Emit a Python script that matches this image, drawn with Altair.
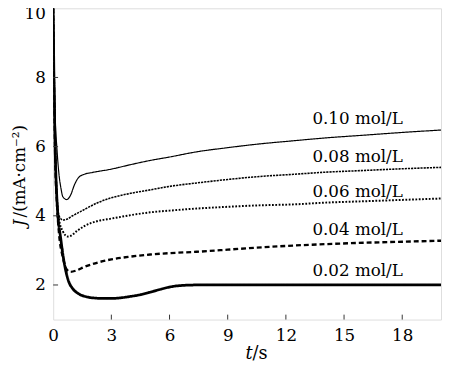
import altair as alt
import pandas as pd

series_names = ["0.10 mol/L", "0.08 mol/L", "0.06 mol/L", "0.04 mol/L", "0.02 mol/L"]

t_010 = [0, 0.05, 0.1, 0.2, 0.3, 0.4, 0.5, 0.7, 0.9, 1.1, 1.3, 1.6, 2, 3, 4, 5, 6, 7.4, 9, 10.5, 12.4, 14, 16, 18, 20]
j_010 = [10, 8.5, 7.0, 5.9, 5.2, 4.8, 4.55, 4.47, 4.6, 4.9, 5.1, 5.2, 5.25, 5.35, 5.48, 5.6, 5.7, 5.85, 5.97, 6.07, 6.17, 6.25, 6.33, 6.41, 6.48]

t_008 = [0, 0.05, 0.1, 0.15, 0.2, 0.3, 0.5, 0.7, 1, 1.5, 2.3, 3, 4, 5, 6, 7.4, 9, 10.5, 12.4, 14, 16, 18, 20]
j_008 = [10, 8, 6.5, 5.2, 4.5, 4.0, 3.88, 3.9, 4.0, 4.15, 4.38, 4.52, 4.65, 4.75, 4.85, 4.95, 5.05, 5.13, 5.2, 5.26, 5.31, 5.36, 5.4]

t_006 = [0, 0.05, 0.1, 0.2, 0.3, 0.5, 0.75, 0.9, 1.2, 1.6, 2.3, 3, 4, 5, 6, 7.4, 9, 10.5, 12.4, 14, 16, 18, 20]
j_006 = [10, 7.8, 6, 4.5, 3.9, 3.55, 3.4, 3.42, 3.55, 3.7, 3.85, 3.92, 4.02, 4.1, 4.15, 4.21, 4.26, 4.3, 4.33, 4.38, 4.42, 4.46, 4.5]

t_004 = [0, 0.05, 0.1, 0.2, 0.3, 0.5, 0.7, 0.9, 1.2, 1.6, 2.3, 3, 4, 5, 6, 7.4, 9, 10.5, 12.4, 14, 16, 18, 20]
j_004 = [10, 7.5, 5.8, 4.3, 3.5, 2.8, 2.45, 2.38, 2.42, 2.52, 2.65, 2.74, 2.82, 2.88, 2.92, 2.96, 3.02, 3.08, 3.14, 3.18, 3.22, 3.25, 3.28]

t_002 = [0, 0.05, 0.1, 0.2, 0.4, 0.6, 0.8, 1.0, 1.3, 1.7, 2.2, 2.6, 3, 3.5, 4, 4.5, 5, 5.5, 6, 6.5, 7.4, 9, 12, 15, 18, 20]
j_002 = [10, 7.5, 6, 4.4, 3.3, 2.55, 2.1, 1.9, 1.75, 1.66, 1.62, 1.61, 1.61, 1.63, 1.67, 1.72, 1.79, 1.87, 1.94, 1.98, 2.0, 2.0, 2.0, 2.0, 2.0, 2.0]

label_t = [15.7, 15.7, 15.7, 15.7, 15.7]
label_j = [6.79, 5.69, 4.70, 3.59, 2.40]

x_ticks = [0, 3, 6, 9, 12, 15, 18]
y_ticks = [2, 4, 6, 8, 10]
x_inner_ticks = [3, 6, 9, 12, 15, 18]
y_inner_ticks = [2, 4, 6, 8]

all_t = [t_010, t_008, t_006, t_004, t_002]
all_j = [j_010, j_008, j_006, j_004, j_002]

rows = []
for name, ts, js in zip(series_names, all_t, all_j):
    for i, (t, j) in enumerate(zip(ts, js)):
        rows.append({"series": name, "t": t, "J": j, "order": i})
df = pd.DataFrame(rows)

lab_df = pd.DataFrame({"series": series_names, "t": label_t, "J": label_j})

W, H = 395, 317
FONT = "DejaVu Serif"

xscale = alt.Scale(domain=[0, 20], nice=False, zero=False)
yscale = alt.Scale(domain=[1, 10], nice=False, zero=False)

lines = alt.Chart(df).mark_line(clip=True, color="black", interpolate="monotone").encode(
    x=alt.X("t:Q", scale=xscale,
            axis=alt.Axis(values=x_ticks, title=None, ticks=False, domain=False, grid=False,
                          labelFont=FONT, labelFontSize=17, labelColor="black",
                          labelPadding=8, labelFlush=False)),
    y=alt.Y("J:Q", scale=yscale,
            axis=alt.Axis(values=y_ticks, title=None, ticks=False, domain=False, grid=False,
                          labelFont=FONT, labelFontSize=17, labelColor="black",
                          labelPadding=8, labelFlush=False,
                          labelOffset={"condition": {"test": "datum.value == 10", "value": 5},
                                       "value": 0})),
    detail="series:N",
    order="order:Q",
    strokeDash=alt.StrokeDash("series:N", legend=None,
                              scale=alt.Scale(domain=series_names,
                                              range=[[1, 0], [2.2, 1], [1.8, 1.6], [5, 3], [1, 0]])),
    strokeWidth=alt.StrokeWidth("series:N", legend=None,
                                scale=alt.Scale(domain=series_names,
                                                range=[1.2, 2.8, 2.2, 2.3, 2.8])),
)

labels = alt.Chart(lab_df).mark_text(font=FONT, fontSize=17, color="black",
                                     align="center", baseline="middle").encode(
    x=alt.X("t:Q", scale=xscale),
    y=alt.Y("J:Q", scale=yscale),
    text="series:N",
)

xt_df = pd.DataFrame({"v": x_inner_ticks})
yt_df = pd.DataFrame({"v": y_inner_ticks})

xticks = alt.Chart(xt_df).mark_rule(color="#333", strokeWidth=1).encode(
    x=alt.X("v:Q", scale=xscale),
    y=alt.value(H),
    y2=alt.value(H - 5),
)
yticks = alt.Chart(yt_df).mark_rule(color="#333", strokeWidth=1).encode(
    y=alt.Y("v:Q", scale=yscale),
    x=alt.value(0),
    x2=alt.value(5),
)

ttl = pd.DataFrame({"a": [0]})
xt_italic = alt.Chart(ttl).mark_text(font=FONT, fontSize=18, fontStyle="italic", color="black",
                                     align="right", baseline="alphabetic").encode(
    x=alt.value(203), y=alt.value(357), text=alt.value("t"))
xt_rest = alt.Chart(ttl).mark_text(font=FONT, fontSize=18, color="black",
                                   align="left", baseline="alphabetic").encode(
    x=alt.value(203), y=alt.value(357), text=alt.value("/s"))
yt_italic = alt.Chart(ttl).mark_text(font=FONT, fontSize=17, fontStyle="italic", color="black",
                                     align="left", baseline="alphabetic", angle=270).encode(
    x=alt.value(-29), y=alt.value(222), text=alt.value("J"))
yt_rest = alt.Chart(ttl).mark_text(font=FONT, fontSize=17, color="black",
                                   align="left", baseline="alphabetic", angle=270).encode(
    x=alt.value(-29), y=alt.value(213), text=alt.value("/(mA·cm⁻²)"))

chart = alt.layer(lines, labels, xticks, yticks, xt_italic, xt_rest, yt_italic, yt_rest).properties(
    width=W, height=H,
    autosize=alt.AutoSizeParams(type="none"),
    padding={"left": 46, "top": -3, "right": 1, "bottom": 44},
).configure_view(stroke="#444", strokeWidth=1.2).configure(background="white")

chart.save("out.html", embed_options={"renderer": "svg", "actions": False})
